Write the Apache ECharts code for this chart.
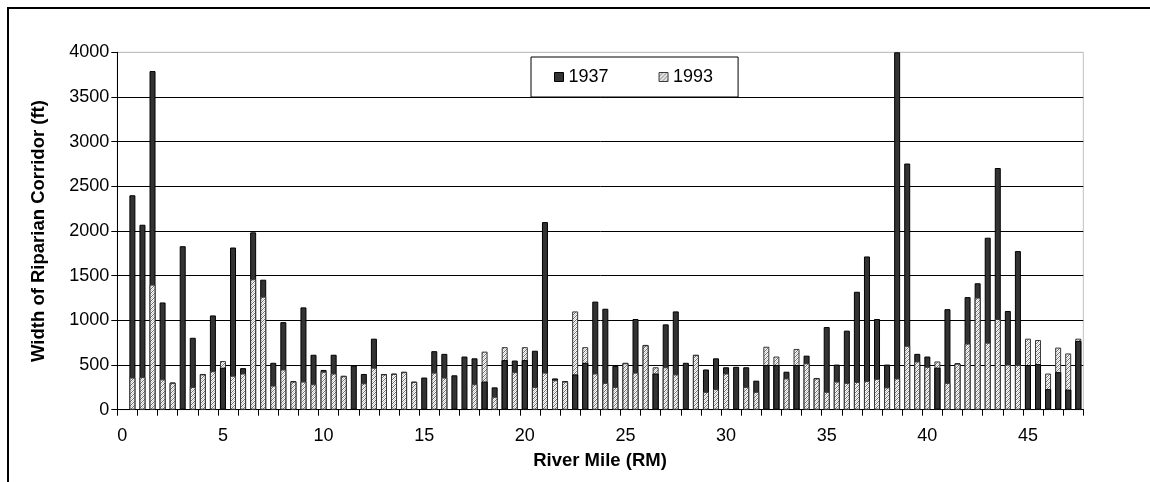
<!DOCTYPE html>
<html>
<head>
<meta charset="utf-8">
<script src="https://cdn.jsdelivr.net/npm/echarts@6/dist/echarts.min.js"></script>
<style>
html,body{margin:0;padding:0;background:#fff;}
#chart{width:1150px;height:482px;}
</style>
</head>
<body>
<div id="chart"></div>
<script>
// River mile categories (every 0.5 mile)
const categories = ['0','0.5','1','1.5','2','2.5','3','3.5','4','4.5','5','5.5','6','6.5','7','7.5','8','8.5','9','9.5',
 '10','10.5','11','11.5','12','12.5','13','13.5','14','14.5','15','15.5','16','16.5','17','17.5','18','18.5','19','19.5',
 '20','20.5','21','21.5','22','22.5','23','23.5','24','24.5','25','25.5','26','26.5','27','27.5','28','28.5','29','29.5',
 '30','30.5','31','31.5','32','32.5','33','33.5','34','34.5','35','35.5','36','36.5','37','37.5','38','38.5','39','39.5',
 '40','40.5','41','41.5','42','42.5','43','43.5','44','44.5','45','45.5','46','46.5','47','47.5'];

// Width of riparian corridor in 1937 (ft)
const width1937 = [null,2400,2070,3790,1200,305,1830,805,400,1055,
 470,1815,465,1985,1455,525,980,320,1145,615,
 445,615,380,495,400,795,400,405,425,315,
 360,655,625,385,595,575,315,250,555,550,
 555,660,2100,350,320,395,525,1210,1130,490,
 525,1015,725,405,955,1100,525,615,450,575,
 475,480,475,325,500,500,425,500,605,355,
 925,505,885,1320,1715,1015,505,4000,2755,625,
 595,470,1125,520,1260,1415,1925,2705,1105,1775,
 500,510,230,420,225,770];

// Width of riparian corridor in 1993 (ft)
const width1993 = [null,360,365,1400,340,300,null,255,395,430,
 545,380,405,1460,1265,270,450,315,315,285,
 425,405,375,null,295,470,395,400,420,310,
 null,415,360,null,null,285,650,145,700,420,
 700,255,415,330,315,1100,700,405,300,255,
 520,415,720,475,475,395,null,610,200,230,
 405,null,255,200,705,595,350,680,520,350,
 200,315,300,310,320,345,250,350,715,540,
 480,540,300,515,740,1255,750,1015,505,500,
 795,780,405,695,630,795];

const yTicks = [0,500,1000,1500,2000,2500,3000,3500,4000];
const seriesNames = ['1937','1993'];

// hatch pattern for 1993 bars
function makeHatch(){
  const c = document.createElement('canvas');
  c.width = 4; c.height = 4;
  const g = c.getContext('2d');
  g.fillStyle = '#ffffff'; g.fillRect(0,0,4,4);
  g.fillStyle = '#6e6e6e';
  for (let k=0;k<4;k++){ g.fillRect(k, 3-k, 1, 1); }
  g.fillStyle = '#c8c8c8';
  for (let k=0;k<4;k++){ g.fillRect(k, (5-k)%4, 1, 1); }
  return c;
}
const hatch = {image: makeHatch(), repeat: 'repeat'};

const FONT = "'Liberation Sans', Arial, sans-serif";
const darkStyle = {color:'#333333', borderColor:'#000000', borderWidth:1};
const hatchStyle = {color: hatch, borderColor:'#3a3a3a', borderWidth:1};

// 1937 drawn again in front where it is the shorter one
const front1937 = width1937.map((v,i)=> (v!=null && width1993[i]!=null && v < width1993[i]) ? v : '-');

const chart = echarts.init(document.getElementById('chart'), null, {renderer:'canvas'});
chart.setOption({
  animation:false,
  backgroundColor:'#ffffff',
  grid:{left:117.3, right:66.7, top:52.3, bottom:72.3, show:true, borderColor:'#c0c0c0', borderWidth:1, backgroundColor:'transparent'},
  legend:{
    left:531, top:57, orient:'horizontal',
    padding:[11,25,11,23], itemGap:50, itemWidth:9, itemHeight:9,
    borderColor:'#000', borderWidth:1, backgroundColor:'#fff',
    textStyle:{fontSize:18, fontFamily:FONT, color:'#000'},
    data:[
      {name:seriesNames[0], icon:'rect', itemStyle:darkStyle},
      {name:seriesNames[1], icon:'rect', itemStyle:hatchStyle}
    ]
  },
  xAxis:{
    type:'category', data:categories, boundaryGap:true,
    axisLine:{lineStyle:{color:'#000', width:1}},
    axisTick:{show:true, interval:1, length:6, lineStyle:{color:'#000'}},
    axisLabel:{interval:9, fontSize:18, fontFamily:FONT, color:'#000', margin:17},
    splitLine:{show:false}
  },
  yAxis:{
    type:'value', min:yTicks[0], max:yTicks[yTicks.length-1], interval:500,
    axisLine:{show:true, lineStyle:{color:'#000', width:1}},
    axisTick:{show:true, length:6, lineStyle:{color:'#000'}},
    axisLabel:{fontSize:18, fontFamily:FONT, color:'#000', margin:8, formatter:(v)=>String(v)},
    splitLine:{show:true, lineStyle:{color:['#000','#000','#000','#000','#000','#000','#000','#000','#c0c0c0'], width:1}}
  },
  series:[
    {name:seriesNames[0], type:'bar', data:width1937, barWidth:6, barGap:'-100%', itemStyle:darkStyle, z:2},
    {name:seriesNames[1], type:'bar', data:width1993, barWidth:6, barGap:'-100%', itemStyle:hatchStyle, z:3},
    {name:seriesNames[0], type:'bar', data:front1937, barWidth:6, barGap:'-100%', itemStyle:darkStyle, z:4}
  ],
  graphic:[
    {type:'rect', shape:{x:8, y:8, width:1200, height:600}, style:{fill:'none', stroke:'#000', lineWidth:2}, silent:true, z:100},
    {type:'text', x:600, y:461, style:{text:'River Mile (RM)', font:"bold 18.5px "+FONT, fill:'#000', textAlign:'center', textVerticalAlign:'middle'}},
    {type:'text', x:39, y:231, rotation:Math.PI/2, style:{text:'Width of Riparian Corridor (ft)', font:"bold 18.5px "+FONT, fill:'#000', textAlign:'center', textVerticalAlign:'middle'}}
  ]
});
</script>
</body>
</html>
